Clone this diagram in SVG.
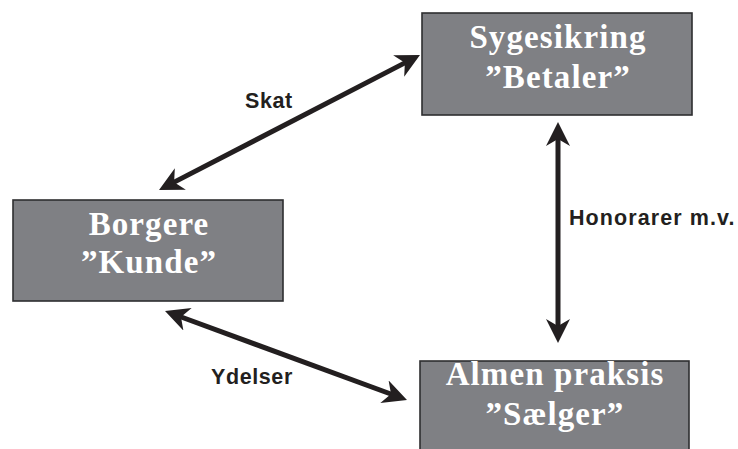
<svg xmlns="http://www.w3.org/2000/svg" width="738" height="449" viewBox="0 0 738 449">
<style>
.box{fill:#7f8084;stroke:#2e2e30;stroke-width:1.6}
.nt{font-family:"Liberation Serif","Times New Roman",serif;font-weight:bold;font-size:33px;fill:#ffffff;text-anchor:middle;letter-spacing:1.1px}
.lbl{font-family:"Liberation Sans",Arial,sans-serif;font-weight:bold;font-size:21.5px;fill:#231f20;letter-spacing:0.6px}
.con{stroke:#231f20;stroke-width:5;fill:none}
</style>
<defs>
<marker id="ah" viewBox="0 0 24 24" markerWidth="24" markerHeight="24" refX="14" refY="12" orient="auto-start-reverse" markerUnits="userSpaceOnUse">
<path d="M0,0 L24,12 L0,24 L7,12 Z" fill="#231f20"/>
</marker>
</defs>
<rect width="738" height="449" fill="#ffffff"/>
<g id="connectors">
<line class="con" x1="167.9" y1="185.4" x2="411.1" y2="59.6" marker-start="url(#ah)" marker-end="url(#ah)"/>
<line class="con" x1="174.4" y1="314.5" x2="397.6" y2="396.5" marker-start="url(#ah)" marker-end="url(#ah)"/>
<line class="con" x1="558" y1="132" x2="558" y2="333" marker-start="url(#ah)" marker-end="url(#ah)"/>
<text class="lbl" x="245" y="108">Skat</text>
<text class="lbl" x="211" y="384">Ydelser</text>
<text class="lbl" x="569" y="225" textLength="166">Honorarer m.v.</text>
</g>
<g id="sygesikring">
<rect class="box" x="422" y="13" width="270" height="102"/>
<text class="nt" x="558" y="48">Sygesikring</text>
<text class="nt" x="558" y="88">”Betaler”</text>
</g>
<g id="borgere">
<rect class="box" x="13" y="200" width="270" height="101"/>
<text class="nt" x="149" y="235">Borgere</text>
<text class="nt" x="149" y="273">”Kunde”</text>
</g>
<g id="almen">
<rect class="box" x="420" y="361" width="269" height="95"/>
<text class="nt" x="555" y="385">Almen praksis</text>
<text class="nt" x="555" y="425">”Sælger”</text>
</g>
</svg>
